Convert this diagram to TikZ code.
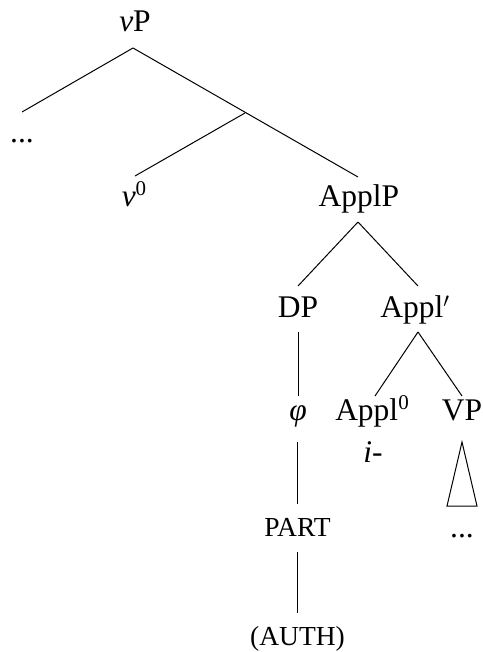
\documentclass[tikz,border=0pt]{standalone}
\usepackage{fontspec}
\setmainfont{Liberation Serif}
\usetikzlibrary{calc}
\newcommand{\supz}{\raisebox{11pt}{\fontsize{21}{21}\selectfont 0}}
\tikzset{
  lbl/.style={inner sep=0pt, anchor=base, font=\fontsize{31.5}{36}\selectfont},
  sc/.style={inner sep=0pt, anchor=base, font=\fontsize{27.5}{30}\selectfont},
  br/.style={line width=1pt},
}
\begin{document}
\begin{tikzpicture}[x=1pt,y=-1pt]
\useasboundingbox (0,0) rectangle (482,652);
% labels
\node[lbl] (vP) at (135,32) {\textit{v}P};
\node[lbl] (dots1) at (22,143) {...};
\node[lbl] (v0) at (134,207) {\textit{v}\supz};
\node[lbl] (ApplP) at (359,207) {ApplP};
\node[lbl] (DP) at (298,317) {DP};
\node[lbl] (Applbar) at (415,317) {Appl$'$};
\node[lbl] (phi) at (298,420) {\textit{φ}};
\node[lbl] (Appl0) at (372,420) {Appl\supz};
\node[lbl] (VP) at (462,420) {VP};
\node[lbl] (ipre) at (373,462) {\textit{i}-};
\node[sc] (PART) at (297.5,536) {PART};
\node[sc] (AUTH) at (297.5,645) {(AUTH)};
\node[lbl] (dots2) at (462,537) {...};
% branches
\coordinate (vPb) at ($(vP.base)+(-2,16)$);
\coordinate (bar) at (245,113);
\draw[br] (vPb) -- ($(dots1.base)+(0,-31)$);
\draw[br] (vPb) -- ($(ApplP.base)+(-1,-30)$);
\draw[br] (bar) -- ($(v0.base)+(1,-31)$);
\draw[br] ($(ApplP.base)+(-1,15)$) -- ($(DP.base)+(0,-31)$);
\draw[br] ($(ApplP.base)+(-1,15)$) -- ($(Applbar.base)+(3,-31)$);
\draw[br] ($(DP.base)+(0,15)$) -- ($(phi.base)+(0,-24)$);
\draw[br] ($(Applbar.base)+(3,15)$) -- ($(Appl0.base)+(3,-24)$);
\draw[br] ($(Applbar.base)+(3,15)$) -- ($(VP.base)+(0,-24)$);
\draw[br] ($(phi.base)+(-0.5,22)$) -- ($(PART.base)+(0,-32)$);
\draw[br] ($(PART.base)+(0,16)$) -- ($(AUTH.base)+(0,-32)$);
\draw[br] ($(VP.base)+(0,22)$) -- ($(VP.base)+(-15,86)$) -- ($(VP.base)+(15,86)$) -- cycle;
\end{tikzpicture}
\end{document}
